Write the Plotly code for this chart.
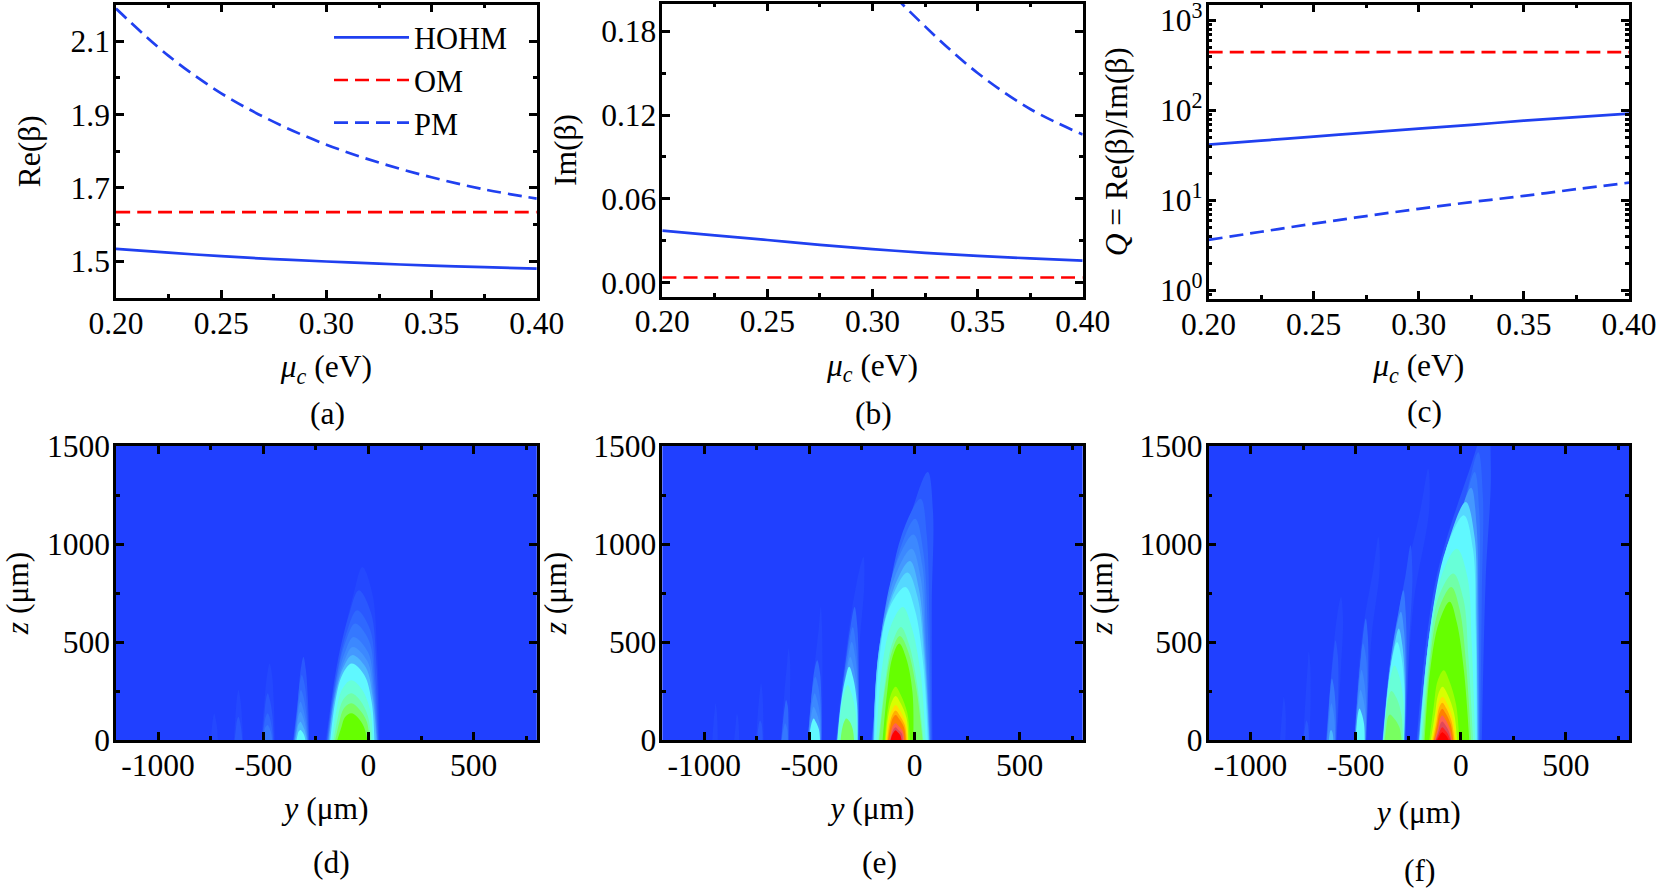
"""
Six panel mode figure: dispersion curves on top, field maps below
"""

import plotly.graph_objects as go

# ---- top row data ----
mu_c = [0.20, 0.225, 0.25, 0.275, 0.30, 0.325, 0.35, 0.375, 0.40]

re_hohm = [1.534, 1.5235, 1.514, 1.506, 1.4995, 1.4935, 1.4885, 1.484, 1.480]
re_om = [1.634] * 9
re_pm = [2.189, 2.06, 1.958, 1.880, 1.818, 1.769, 1.729, 1.696, 1.671]

im_hohm = [0.0372, 0.0338, 0.0305, 0.0270, 0.0240, 0.0213, 0.0191, 0.0173, 0.0157]
im_om = [0.0036] * 9
im_pm = [0.603, 0.463, 0.357, 0.272, 0.2225, 0.1836, 0.1502, 0.1244, 0.1061]

q_hohm = [41.5, 46, 51, 56.5, 62.5, 69, 76.7, 84, 91.8]
q_om = [444] * 9
q_pm = [3.63, 4.47, 5.5, 6.68, 8.03, 9.55, 11.2, 13.3, 15.7]

log_major_ticks = [1, 10, 100, 1000]
log_major_text = ["10<sup>0</sup>", "10<sup>1</sup>", "10<sup>2</sup>", "10<sup>3</sup>"]
log_minor_ticks = [d * m for d in (0.1, 1, 10, 100) for m in range(2, 10)
                   if 0.8 <= d * m <= 1500]

# ---- field map data ----
# colour bands of the contour map, weakest to strongest
band_colors = ["#2448ff", "#2a58ff", "#2f68ff", "#3578ff", "#3c88ff", "#4498ff",
               "#4cb8ff", "#55d8ff", "#60f8ff", "#68ffd8", "#70ffa8", "#78ff60",
               "#66ff00", "#9cff00", "#d8ff00", "#ffe000", "#ffb000", "#ff8000",
               "#ff6050", "#e04858", "#ff2020", "#ff0000"]
map_background = "#2040ff"

# each row is one contour:
# band, z at apex, y at apex,
# left edge y at z=0, at 0.5*apex, at 0.85*apex, right edge y at 0.85*apex, at 0.5*apex, at z=0
outlines_d = [
    (0, 883, -29, -205, -135, -70, 18, 42, 55), (1, 764, -46, -200, -150, -90, 12, 38, 50),
    (2, 662, -54, -197, -152, -100, 8, 32, 47), (3, 594, -63, -195, -155, -108, 3, 28, 45),
    (4, 526, -71, -192, -157, -112, -2, 25, 42), (5, 475, -75, -190, -158, -115, -6, 22, 40),
    (6, 433, -78, -188, -160, -120, -12, 20, 38), (8, 390, -80, -182, -158, -125, -20, 15, 28),
    (9, 305, -82, -174, -152, -125, -32, 8, 20), (10, 238, -82, -166, -145, -122, -40, -2, 12),
    (11, 187, -82, -158, -138, -118, -46, -8, 4), (12, 136, -82, -148, -128, -112, -52, -22, -6),
    (1, 424, -309, -358, -335, -322, -298, -288, -282),
    (2, 331, -317, -356, -338, -328, -303, -292, -285),
    (3, 255, -321, -354, -340, -330, -308, -295, -287),
    (4, 195, -323, -352, -340, -332, -312, -298, -289),
    (5, 144, -323, -350, -340, -333, -313, -300, -291),
    (6, 93, -323, -348, -340, -333, -315, -302, -293),
    (8, 51, -323, -342, -337, -332, -316, -306, -300),
    (0, 390, -470, -510, -495, -482, -458, -450, -445),
    (1, 238, -479, -507, -496, -488, -468, -456, -450),
    (2, 136, -479, -505, -497, -489, -470, -460, -454),
    (3, 76, -479, -502, -496, -490, -472, -463, -458),
    (0, 255, -618, -640, -632, -625, -610, -602, -596),
    (1, 119, -618, -636, -630, -625, -612, -605, -600),
    (0, 136, -733, -750, -744, -738, -728, -720, -716),
]

outlines_e = [
    (1, 1367, 63, -205, -124, -14, 88, 82, 85), (2, 1231, 29, -203, -141, -61, 58, 71, 80),
    (3, 1129, 3, -200, -153, -73, 42, 63, 76), (4, 1049, -5, -198, -161, -90, 37, 54, 74),
    (5, 976, -14, -196, -166, -95, 29, 51, 72), (6, 913, -22, -195, -170, -98, 20, 48, 70),
    (7, 854, -34, -194, -172, -107, 15, 45, 68), (8, 781, -44, -192, -170, -124, 2, 41, 63),
    (9, 679, -56, -182, -158, -115, -14, 29, 52), (10, 577, -65, -172, -141, -107, -27, 12, 42),
    (11, 530, -70, -168, -140, -108, -30, 8, 38), (12, 492, -73, -152, -130, -106, -40, -10, -6),
    (13, 272, -90, -142, -130, -113, -66, -34, -22), (14, 225, -90, -138, -127, -110, -68, -38, -30),
    (15, 178, -90, -135, -125, -108, -70, -42, -32), (16, 150, -90, -130, -120, -106, -72, -46, -38),
    (17, 127, -90, -126, -116, -105, -74, -50, -42), (18, 85, -90, -120, -112, -103, -77, -55, -50),
    (19, 65, -90, -116, -108, -100, -80, -60, -56), (21, 50, -90, -114, -107, -98, -82, -68, -62),
    (0, 934, -243, -375, -325, -277, -239, -262, -262),
    (2, 679, -285, -372, -335, -305, -272, -266, -267),
    (3, 577, -294, -370, -340, -312, -279, -268, -268),
    (4, 501, -299, -369, -342, -316, -282, -270, -269),
    (5, 424, -306, -368, -345, -322, -288, -271, -270),
    (8, 374, -311, -367, -350, -328, -292, -274, -271),
    (9, 280, -318, -365, -352, -335, -300, -280, -274),
    (11, 110, -325, -352, -345, -335, -308, -294, -288),
    (0, 679, -446, -510, -480, -455, -440, -438, -440),
    (2, 407, -463, -508, -492, -478, -450, -443, -442),
    (3, 323, -472, -507, -495, -484, -458, -446, -444),
    (4, 238, -475, -506, -496, -486, -463, -449, -446),
    (5, 170, -480, -505, -497, -488, -468, -452, -448),
    (8, 110, -480, -503, -496, -488, -470, -455, -450),
    (0, 467, -599, -636, -620, -606, -592, -592, -596),
    (2, 204, -611, -634, -625, -617, -603, -600, -600),
    (3, 85, -616, -632, -626, -620, -610, -604, -603),
    (0, 289, -730, -754, -745, -736, -724, -720, -718),
    (1, 100, -735, -750, -745, -740, -728, -724, -722),
    (0, 136, -845, -858, -852, -848, -840, -836, -834),
    (0, 187, -947, -962, -956, -950, -942, -938, -936),
]

outlines_f = [
    (1, 1620, 125, -210, -120, 41, 143, 118, 100), (2, 1468, 83, -205, -112, 24, 105, 100, 92),
    (3, 1367, 66, -203, -122, 7, 88, 88, 88), (5, 1287, 49, -200, -132, -19, 75, 83, 85),
    (7, 1214, 24, -198, -140, -53, 66, 75, 80), (8, 1146, 15, -196, -145, -70, 58, 71, 76),
    (9, 976, -19, -192, -152, -95, 32, 52, 68), (10, 849, -36, -186, -150, -108, 12, 36, 58),
    (11, 780, -45, -178, -148, -106, -5, 25, 48), (12, 705, -53, -172, -146, -104, -19, 15, 40),
    (13, 356, -81, -150, -128, -110, -55, -22, -8), (14, 272, -87, -143, -122, -108, -62, -32, -18),
    (15, 221, -87, -138, -118, -106, -66, -38, -25), (16, 190, -88, -133, -115, -104, -69, -44, -30),
    (17, 160, -88, -128, -112, -102, -72, -48, -36), (18, 125, -88, -124, -108, -100, -74, -54, -42),
    (19, 95, -88, -120, -106, -98, -76, -58, -46), (20, 65, -88, -117, -104, -96, -78, -62, -50),
    (21, 40, -88, -112, -102, -95, -80, -68, -58),
    (0, 1384, -155, -375, -290, -192, -150, -225, -262),
    (1, 993, -239, -373, -320, -262, -230, -245, -264),
    (3, 764, -273, -372, -338, -297, -262, -258, -266),
    (5, 654, -285, -371, -342, -310, -270, -262, -268),
    (7, 569, -295, -370, -345, -316, -278, -266, -270),
    (8, 500, -303, -369, -348, -325, -283, -268, -271),
    (9, 380, -315, -368, -352, -335, -292, -272, -272),
    (10, 250, -330, -366, -356, -345, -305, -282, -276),
    (11, 130, -338, -362, -354, -348, -318, -292, -282),
    (0, 1036, -392, -508, -472, -415, -385, -425, -448),
    (2, 620, -452, -506, -485, -466, -442, -440, -450),
    (3, 492, -465, -505, -490, -475, -450, -446, -452),
    (4, 357, -472, -504, -492, -482, -460, -450, -453),
    (5, 255, -477, -503, -495, -485, -465, -453, -454),
    (8, 161, -482, -501, -495, -489, -472, -460, -457),
    (0, 730, -570, -642, -615, -590, -560, -570, -590),
    (1, 509, -596, -640, -622, -606, -585, -582, -592),
    (3, 314, -613, -638, -628, -620, -603, -595, -595),
    (4, 187, -615, -636, -628, -622, -608, -600, -598),
    (6, 51, -617, -628, -625, -622, -612, -608, -606),
    (0, 450, -723, -750, -738, -728, -716, -714, -720),
    (1, 100, -735, -748, -743, -738, -728, -724, -722),
    (0, 221, -842, -860, -852, -846, -836, -832, -834),
]

# thin yellow dotted run just under the axis below each hot spot: panel -> y from, y to
fringe_spans = {"d": (-114, -41), "e": (-141, 20), "f": (-146, 29)}
fringe_z = -12

WIDTH, HEIGHT = 1658, 888
FONT = "Liberation Serif"
FONT_SIZE = 31.5
BLUE = "#2040f0"
RED = "#ff0000"
DASH = "14px,7px"

# plot areas in page pixels: left, right, top, bottom
panels = {
    "a": (116, 536.8, 4.5, 298),
    "b": (662.3, 1082.7, 3.5, 296.5),
    "c": (1208.5, 1629, 4.5, 299),
    "d": (116, 536.8, 446, 740),
    "e": (662.3, 1082.7, 446, 740),
    "f": (1208.5, 1629, 446, 740),
}
axis_ids = {"a": "", "b": "2", "c": "3", "d": "4", "e": "5", "f": "6"}


def tick_style():
    return dict(
        ticks="inside", ticklen=8, tickwidth=2.5, tickcolor="black",
        showline=True, linecolor="black", linewidth=2.5, mirror="allticks",
        showgrid=False, zeroline=False, automargin=False,
        tickfont=dict(family=FONT, size=FONT_SIZE, color="black"),
    )


def minor_style(values):
    return dict(ticks="inside", ticklen=4, tickwidth=2.5, tickcolor="black", tickvals=values)


def axis_title(text, standoff):
    return dict(text=text, standoff=standoff, font=dict(family=FONT, size=FONT_SIZE))


def add_curves(fig, panel, hohm, om, pm, legend=False):
    suffix = axis_ids[panel]
    series = [("HOHM", hohm, BLUE, "solid"), ("OM", om, RED, DASH), ("PM", pm, BLUE, DASH)]
    for name, values, color, dash in series:
        fig.add_trace(go.Scatter(
            x=mu_c, y=values, mode="lines", name=name, showlegend=legend,
            line=dict(color=color, width=2.7, dash=dash, shape="spline"),
            xaxis="x" + suffix, yaxis="y" + suffix, hoverinfo="skip",
        ))


def add_map(fig, panel, outlines):
    suffix = axis_ids[panel]
    for band, z_apex, y_apex, l0, l50, l85, r85, r50, r0 in outlines:
        fig.add_trace(go.Scatter(
            x=[l0, l50, l85, y_apex, r85, r50, r0],
            y=[0, 0.5 * z_apex, 0.85 * z_apex, z_apex, 0.85 * z_apex, 0.5 * z_apex, 0],
            mode="lines", fill="toself", fillcolor=band_colors[band],
            line=dict(width=0, shape="spline", smoothing=1.0),
            showlegend=False, xaxis="x" + suffix, yaxis="y" + suffix, hoverinfo="skip",
        ))
    fig.add_trace(go.Scatter(
        x=list(fringe_spans[panel]), y=[fringe_z, fringe_z], mode="lines", cliponaxis=False,
        line=dict(color="#f0e020", width=1.5, dash="1px,1px"),
        showlegend=False, xaxis="x" + suffix, yaxis="y" + suffix, hoverinfo="skip",
    ))


fig = go.Figure()
add_curves(fig, "a", re_hohm, re_om, re_pm, legend=True)
add_curves(fig, "b", im_hohm, im_om, im_pm)
add_curves(fig, "c", q_hohm, q_om, q_pm)
add_map(fig, "d", outlines_d)
add_map(fig, "e", outlines_e)
add_map(fig, "f", outlines_f)

layout = dict(
    width=WIDTH, height=HEIGHT, autosize=False,
    margin=dict(l=0, r=0, t=0, b=0),
    paper_bgcolor="white", plot_bgcolor="white",
    font=dict(family=FONT, size=FONT_SIZE, color="black"),
    legend=dict(
        x=329 / WIDTH, y=1 - 11 / HEIGHT, xanchor="left", yanchor="top",
        bgcolor="rgba(0,0,0,0)", itemwidth=75, tracegroupgap=0,
        font=dict(family=FONT, size=30.5),
    ),
)

x_standoffs = {"a": 16, "b": 16, "c": 14, "d": 16, "e": 16, "f": 20}

for key, (left, right, top, bottom) in panels.items():
    suffix = axis_ids[key]
    x_axis = tick_style()
    y_axis = tick_style()
    x_axis["domain"] = [left / WIDTH, right / WIDTH]
    y_axis["domain"] = [1 - bottom / HEIGHT, 1 - top / HEIGHT]
    x_axis["anchor"] = "y" + suffix
    y_axis["anchor"] = "x" + suffix
    x_axis["ticklabelstandoff"] = -5
    y_axis["ticklabelstandoff"] = -3
    if key in "abc":
        x_axis.update(
            range=[0.2, 0.4], tickvals=[0.2, 0.25, 0.3, 0.35, 0.4],
            ticktext=["0.20", "0.25", "0.30", "0.35", "0.40"],
            minor=minor_style([0.225, 0.275, 0.325, 0.375]),
            title=axis_title("<i>μ<sub>c</sub></i> (eV)", x_standoffs[key]),
        )
    else:
        x_axis.update(
            range=[-1200, 800], tickvals=[-1000, -500, 0, 500],
            ticktext=["-1000", "-500", "0", "500"],
            minor=minor_style([-750, -250, 250, 750]),
            title=axis_title("<i>y</i> (μm)", x_standoffs[key]),
        )
        y_axis.update(
            range=[0, 1500], tickvals=[0, 500, 1000, 1500],
            ticktext=["0", "500", "1000", "1500"],
            minor=minor_style([250, 750, 1250]),
            title=axis_title("<i>z</i> (μm)", 18),
        )
    layout["xaxis" + suffix] = x_axis
    layout["yaxis" + suffix] = y_axis

layout["yaxis"].update(
    range=[1.4, 2.2], tickvals=[1.5, 1.7, 1.9, 2.1],
    minor=minor_style([1.6, 1.8, 2.0, 2.2]),
    title=axis_title("Re(β)", 21),
)
layout["yaxis2"].update(
    range=[-0.01, 0.2], tickvals=[0, 0.06, 0.12, 0.18],
    ticktext=["0.00", "0.06", "0.12", "0.18"],
    minor=minor_style([0.03, 0.09, 0.15]),
    title=axis_title("Im(β)", 16),
)
layout["yaxis3"].update(
    type="log", range=[-0.097, 3.176],
    tickvals=log_major_ticks, ticktext=log_major_text,
    ticklabeloverflow="allow",
    minor=minor_style(log_minor_ticks),
    title=axis_title("<i>Q</i> = Re(β)/Im(β)", 23),
)

# map backgrounds sit under the contour fills
layout["shapes"] = [
    dict(type="rect", xref=f"x{axis_ids[k]} domain", yref=f"y{axis_ids[k]} domain",
         x0=0, x1=1, y0=0, y1=1, fillcolor=map_background, line_width=0, layer="below")
    for k in "def"
]

# panel letters
letter_positions = {"(a)": (327.5, 413), "(b)": (873, 413), "(c)": (1424, 411),
                    "(d)": (331, 862), "(e)": (879, 862), "(f)": (1419, 870)}
layout["annotations"] = [
    dict(text=text, x=px / WIDTH, y=1 - py / HEIGHT, xref="paper", yref="paper",
         xanchor="center", yanchor="middle", showarrow=False,
         font=dict(family=FONT, size=FONT_SIZE, color="black"))
    for text, (px, py) in letter_positions.items()
]

fig.update_layout(**layout)

fig.write_html("out.html", config={"displayModeBar": False},
               post_script="document.body.style.margin='0';")
